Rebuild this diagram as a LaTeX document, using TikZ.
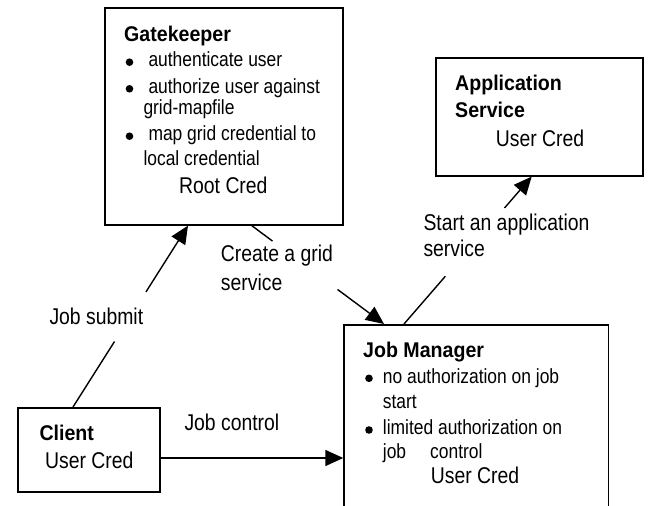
\documentclass[tikz,border=0pt]{standalone}
\usepackage{fontspec}
\setmainfont{Liberation Sans}
\newfontfamily\narrowfont{Liberation Sans}[FakeStretch=0.85]
\newfontfamily\titlefont{Liberation Sans}[FakeStretch=0.92]
\usetikzlibrary{arrows.meta,calc}
\tikzset{
  box/.style={draw, line width=1.6pt, inner sep=0pt, anchor=north west},
  ttl/.style={font=\titlefont\fontsize{21.3}{24}\selectfont\bfseries, anchor=base west, inner sep=0pt},
  txt/.style={font=\narrowfont\fontsize{20.5}{23}\selectfont, anchor=base west, inner sep=0pt},
  bul/.style={circle, fill=black, minimum size=7.6pt, inner sep=0pt},
  lbl/.style={font=\narrowfont\fontsize{22.8}{26}\selectfont, anchor=base west, inner sep=0pt},
  conn/.style={line width=1.4pt},
  arr/.style={conn, -{Triangle[length=18pt,width=16pt]}}
}
\begin{document}
\begin{tikzpicture}[x=1pt,y=-1pt]
\clip (0,0) rectangle (649,506);
\fill[white] (0,0) rectangle (649,506);
% boxes
\node[box, minimum width=238.3pt, minimum height=217pt] (gk) at (104,7) {};
\node[box, minimum width=207pt, minimum height=118pt] (app) at (435,57) {};
\node[box, minimum width=264.4pt, minimum height=200pt] (jm) at (343.3,324) {};
\node[box, minimum width=142pt, minimum height=84pt] (client) at (17,407) {};
% Gatekeeper text
\node[ttl] (gkt) at (124,41.7) {Gatekeeper};
\node[bul] (gkb1) at (129.5,62.2) {};
\node[txt] (gk1) at (148.3,66.7) {authenticate user};
\node[bul] (gkb2) at (129.5,88.8) {};
\node[txt] (gk2) at (148.3,93.3) {authorize user against};
\node[txt] (gk3) at (143.3,114.3) {grid-mapfile};
\node[bul] (gkb3) at (129.5,136.2) {};
\node[txt] (gk4) at (148.3,140.7) {map grid credential to};
\node[txt] (gk5) at (143.3,165.7) {local credential};
\node[lbl] (gkc) at (179,193.3) {Root Cred};
% Application Service text
\node[ttl] (appt1) at (455,90.7) {Application};
\node[ttl] (appt2) at (455,117.3) {Service};
\node[lbl] (appc) at (495.7,146) {User Cred};
% Job Manager text
\node[ttl] (jmt) at (363,357) {Job Manager};
\node[bul] (jmb1) at (369,378.3) {};
\node[txt] (jm1) at (382.7,383) {no authorization on job};
\node[txt] (jm2) at (382.7,408) {start};
\node[bul] (jmb2) at (369,430) {};
\node[txt] (jm3) at (382.7,434.7) {limited authorization on};
\node[txt] (jm4) at (382.7,458) {job};
\node[txt] (jm5) at (430,458) {control};
\node[lbl] (jmc) at (430.7,483.7) {User Cred};
% Client text
\node[ttl] (clt) at (39.3,440) {Client};
\node[lbl] (clc) at (45,468.3) {User Cred};
% connector labels
\node[lbl] (ljs) at (49.3,324) {Job submit};
\node[lbl] (ljc) at (184.3,430.7) {Job control};
\node[lbl] (lcg1) at (220.7,261.7) {Create a grid};
\node[lbl] (lcg2) at (220.7,290) {service};
\node[lbl] (lsa1) at (423.3,230.7) {Start an application};
\node[lbl] (lsa2) at (423.3,256.7) {service};
% connector end points
\coordinate (js1) at ($(client.north west)+(56,0)$);
\coordinate (js2) at ($(gk.south west)+(84,0)$);
\coordinate (cg1) at ($(gk.south west)+(147.7,0)$);
\coordinate (cg2) at ($(jm.north west)+(40.7,0)$);
\coordinate (sa1) at ($(jm.north west)+(60.7,0)$);
\coordinate (sa2) at ($(app.south west)+(96.7,0)$);
\coordinate (jcy) at (0,458);
% Job submit
\draw[conn] (js1) -- ($(js1)!0.361!(js2)$);
\draw[arr] ($(js1)!0.634!(js2)$) -- (js2);
% Create a grid service
\draw[conn] (cg1) -- ($(cg1)!0.157!(cg2)$);
\draw[arr] ($(cg1)!0.649!(cg2)$) -- (cg2);
% Start an application service
\draw[conn] (sa1) -- ($(sa1)!0.324!(sa2)$);
\draw[arr] ($(sa1)!0.787!(sa2)$) -- (sa2);
% Job control
\draw[arr] (client.east |- jcy) -- (jm.west |- jcy);
\end{tikzpicture}
\end{document}
